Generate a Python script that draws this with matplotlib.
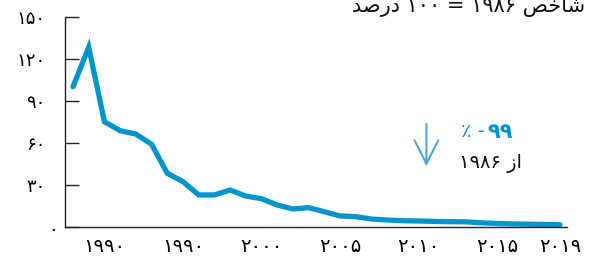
import matplotlib
matplotlib.use('Agg')
import matplotlib.pyplot as plt

# index 1986 = 100 percent
years = list(range(1988, 2020))
values = [100.2, 128.4, 75.2, 68.8, 66.4, 59.1, 38.4, 32.4, 22.9, 22.9,
          26.4, 22.1, 20.2, 15.7, 12.9, 13.8, 10.9, 7.9, 7.4, 5.7,
          5.0, 4.5, 4.3, 4.0, 3.8, 3.7, 3.0, 2.5, 2.2, 2.0,
          1.8, 1.6]

ytick_vals = [0, 30, 60, 90, 120, 150]
ytick_labels = ['', '۳۰', '۶۰', '۹۰', '۱۲۰', '۱۵۰']
xtick_years = [1990, 1995, 2000, 2005, 2010, 2015, 2019]
# the source repeats "1990" for the second label
xtick_labels = ['۱۹۹۰', '۱۹۹۰', '۲۰۰۰', '۲۰۰۵', '۲۰۱۰', '۲۰۱۵', '۲۰۱۹']

# Persian text: mpl lays glyphs left to right with no bidi/shaping,
# so give presentation forms in visual order
title_txt = 'ﺪﺻﺭﺩ ۱۰۰ = ۱۹۸۶ ﺺﺧﺎﺷ'
since_txt = '۱۹۸۶ ﺯﺍ'

line_color = '#0095cc'
arrow_color = '#4ea6da'

plt.rcParams['font.family'] = ['DejaVu Sans', 'Noto Sans']

fig = plt.figure(figsize=(5.9, 2.58), dpi=100)
ax = fig.add_axes([65 / 590, 31 / 258, 502 / 590, 210 / 258])

ax.plot(years, values, color=line_color, lw=3.8,
        solid_capstyle='round', solid_joinstyle='miter')

ax.set_xlim(1987.49, 2019.45)
ax.set_ylim(0, 150)

for side in ('top', 'right'):
    ax.spines[side].set_visible(False)
for side in ('left', 'bottom'):
    ax.spines[side].set_color('#222222')
    ax.spines[side].set_linewidth(1.0)

ax.set_yticks(ytick_vals)
ax.set_yticklabels(ytick_labels, fontsize=13)
ax.tick_params(axis='y', direction='in', length=10, width=1.0,
               color='#222222', pad=14)
ax.set_xticks(xtick_years)
ax.set_xticklabels(xtick_labels, fontsize=14)
ax.tick_params(axis='x', length=0, pad=7)

# zero label sits a bit apart from the others
ax.annotate('۰', xy=(0, 0), xycoords=('axes fraction', 'data'),
            xytext=(-12, -3), textcoords='offset pixels',
            ha='center', va='center', fontsize=13)

# title, partly cut off at the top edge
fig.text(585 / 590, 1 - 12 / 258, title_txt, ha='right', va='baseline',
         fontsize=15, color='#111111')

# arrow and annotation
ax.annotate('', xy=(2010.5, 41.4), xytext=(2010.5, 75.7),
            arrowprops=dict(arrowstyle='->,head_length=1.7,head_width=0.85',
                            color=arrow_color, lw=1.5))
ax.text(2014.2, 67.9, '٪ -', ha='right', va='center', fontsize=14,
        color=line_color)
ax.text(2016.0, 67.9, '۹۹', ha='right', va='center', fontsize=15,
        fontweight='bold', color=line_color)
ax.text(2012.6, 45.7, since_txt, ha='left', va='center', fontsize=14,
        color='#111111')

fig.savefig('out.png', dpi=100)
